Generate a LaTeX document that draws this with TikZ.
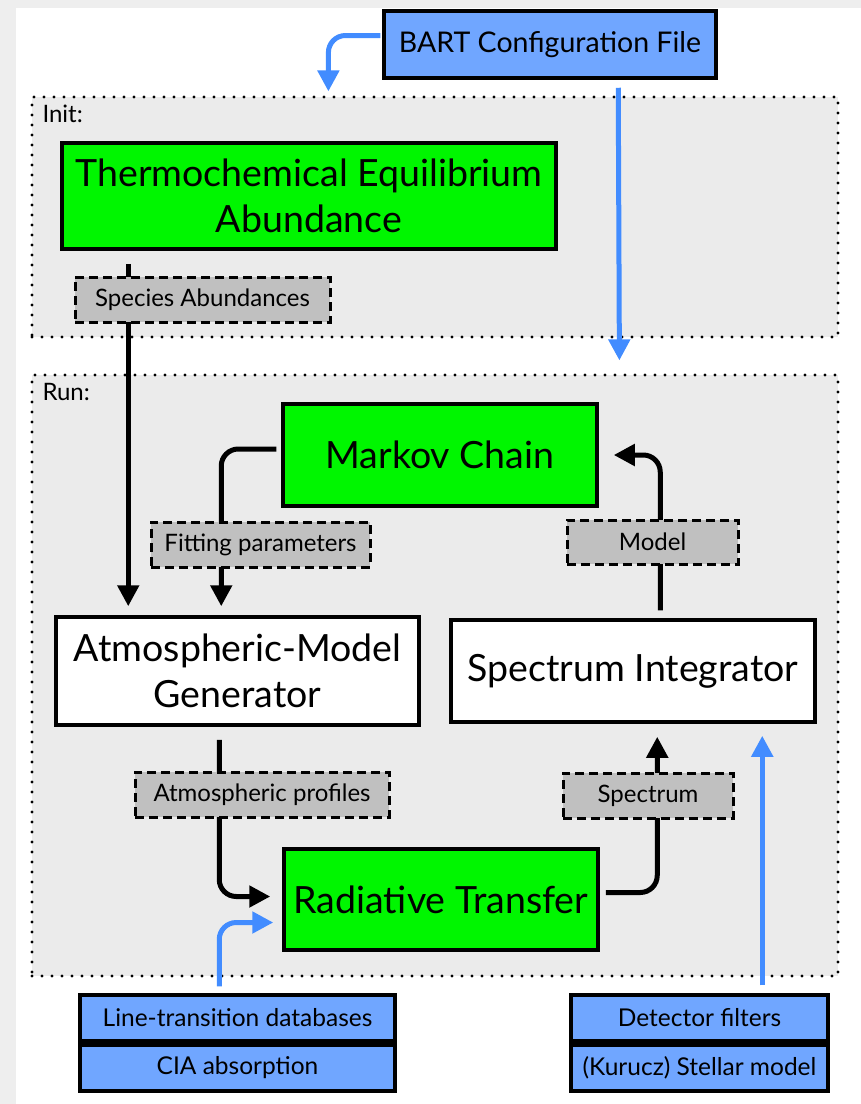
\documentclass[tikz,border=0pt]{standalone}
\usepackage{fontspec}
\setmainfont{Lato}
\usetikzlibrary{arrows.meta,calc}
\definecolor{boxgreen}{RGB}{0,246,0}
\definecolor{boxblue}{RGB}{112,166,255}
\definecolor{flowblue}{RGB}{66,140,255}
\definecolor{tagfill}{RGB}{192,192,192}
\definecolor{stagefill}{RGB}{235,235,235}
\definecolor{paper}{RGB}{238,238,238}
\tikzset{
  stage/.style={draw=black, fill=stagefill, line width=3.2pt, line cap=round,
    dash pattern=on 0pt off 10pt, inner sep=0pt},
  stepbox/.style={draw=black, line width=3.5pt, align=center, inner sep=2pt,
    font=\fontsize{37.5}{46}\selectfont},
  greenbox/.style={stepbox, fill=boxgreen},
  whitebox/.style={stepbox, fill=white},
  inputbox/.style={draw=black, fill=boxblue, line width=3.5pt, inner sep=1pt,
    font=\fontsize{24.5}{27}\selectfont},
  tag/.style={draw=black, fill=tagfill, line width=3pt, dash pattern=on 9pt off 5pt,
    inner sep=1pt, font=\fontsize{24}{27}\selectfont},
  flow/.style={-{Triangle[length=21pt,width=21pt]}, line width=5pt, rounded corners=17pt},
  blueflow/.style={flow, draw=flowblue}
}

\begin{document}
\begin{tikzpicture}[x=1pt,y=-1pt]
  \useasboundingbox (0,0) rectangle (861,1104);
  \fill[paper] (0,0) rectangle (16,1104);
  \fill[paper] (0,0) rectangle (861,8);

  % stages
  \node[stage, minimum width=806pt, minimum height=240pt] (init) at (435,217) {};
  \node[stage, minimum width=806pt, minimum height=601pt] (run) at (435,675.5) {};
  \node[anchor=base west, font=\fontsize{24}{26}\selectfont] (initlbl) at (39,122) {Init:};
  \node[anchor=base west, font=\fontsize{24}{26}\selectfont] (runlbl) at (39,400) {Run:};

  % boxes
  \node[inputbox, minimum width=332pt, minimum height=67pt, font=\fontsize{28.5}{31}\selectfont]
    (bart) at (550,44.5) {BART Configuration File};
  \node[greenbox, minimum width=494pt, minimum height=106pt] (tea) at (309,196)
    {Thermochemical Equilibrium\\Abundance};
  \node[greenbox, minimum width=314pt, minimum height=102pt] (mc) at (440,455) {Markov Chain};
  \node[whitebox, minimum width=363pt, minimum height=108pt] (atm) at (237.5,671)
    {Atmospheric-Model\\Generator};
  \node[whitebox, minimum width=364pt, minimum height=102pt] (si) at (633,671) {Spectrum Integrator};
  \node[greenbox, minimum width=314pt, minimum height=101pt] (rt) at (441,899.5) {Radiative Transfer};
  \node[inputbox, minimum width=315pt, minimum height=46pt] (ltdb) at (237.5,1018) {Line-transition databases};
  \node[inputbox, minimum width=315pt, minimum height=46pt] (cia) at (237.5,1068) {CIA absorption};
  \node[inputbox, minimum width=257pt, minimum height=46pt] (filt) at (699.5,1018) {Detector filters};
  \node[inputbox, minimum width=257pt, minimum height=46pt] (star) at (699.5,1068) {(Kurucz) Stellar model};

  % connectors
  \draw[blueflow] ($(bart.west)+(-2,-9)$) -| ($(init.north west)+(298,-4)$);
  \draw[blueflow] ($(bart.south west)+(236,8)$) -- ($(run.north west)+(589,-13)$);
  \draw[flow] ($(tea.south west)+(68,13)$) -- ($(atm.north west)+(74,-9)$);
  \draw[flow] ($(mc.west)+(-5,-6)$) -| ($(atm.north west)+(167,-9)$);
  \draw[flow] ($(si.north west)+(211,-8)$) |- ($(mc.east)+(15,0)$);
  \draw[flow] ($(atm.south west)+(165,13)$) |- ($(rt.west)+(-12,-3)$);
  \draw[blueflow] ($(ltdb.north west)+(141,-7)$) |- ($(rt.west)+(-9,23)$);
  \draw[flow] ($(rt.east)+(6,-7)$) -| ($(si.south west)+(208,13)$);
  \draw[blueflow] ($(filt.north west)+(193,-8)$) -- ($(si.south west)+(313,12)$);

  % data tags
  \node[tag, minimum width=255pt, minimum height=45pt] (abund) at (202.5,299.5) {Species Abundances};
  \node[tag, minimum width=219pt, minimum height=45pt] (fitpar) at (260.5,544.5) {Fitting parameters};
  \node[tag, minimum width=171pt, minimum height=44pt] (model) at (652.5,542) {Model};
  \node[tag, minimum width=254pt, minimum height=45pt] (prof) at (262,794.5) {Atmospheric profiles};
  \node[tag, minimum width=170pt, minimum height=45pt] (spec) at (648,795.5) {Spectrum};
\end{tikzpicture}
\end{document}
